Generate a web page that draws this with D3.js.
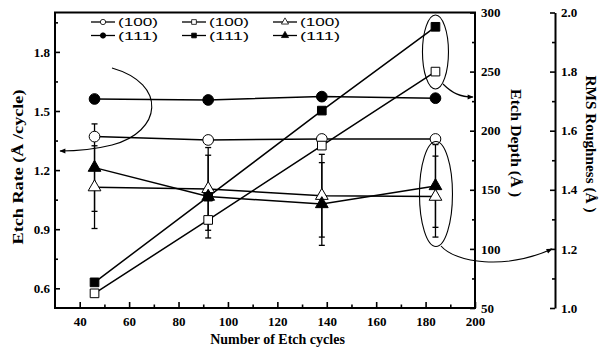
<!DOCTYPE html>
<html><head><meta charset="utf-8">
<script src="https://cdn.jsdelivr.net/npm/d3@7"></script>
<style>body{margin:0;background:#fff}svg{display:block}</style>
</head><body><svg id="c" width="609" height="347"></svg>
<script>
// ---- data ----
const cycles = [46, 92, 138, 184];
const rate100 = [1.370, 1.353, 1.358, 1.358];
const rate111 = [1.561, 1.556, 1.573, 1.565];
const depth100 = [62.4, 124.5, 187.4, 250.0];
const depth111 = [71.7, 144.2, 217.0, 287.9];
const rms100 = [1.409, 1.403, 1.380, 1.377];
const rms111 = [1.475, 1.377, 1.352, 1.413];
const rms100Err = [0.140, 0.140, 0.140, 0.137];
const rms111Err = [0.148, 0.140, 0.140, 0.140];
const xTicks = [40, 60, 80, 100, 120, 140, 160, 180, 200];
const xMinor = [50, 70, 90, 110, 130, 150, 170, 190];
const rateTicks = [0.6, 0.9, 1.2, 1.5, 1.8];
const rateMinor = [0.75, 1.05, 1.35, 1.65, 1.95];
const depthTicks = [50, 100, 150, 200, 250, 300];
const depthMinor = [75, 125, 175, 225, 275];
const rmsTicks = [1.0, 1.2, 1.4, 1.6, 1.8, 2.0];
const rmsMinor = [1.1, 1.3, 1.5, 1.7, 1.9];
const legendLabels = ["(100)", "(100)", "(100)", "(111)", "(111)", "(111)"];

// ---- layout ----
const L = 55, R = 475, T = 12.5, B = 308;
const svg = d3.select("#c");
const x = d3.scaleLinear([30, 200], [L, R]);
const yL = d3.scaleLinear([0.5, 2.0], [B, T]);
const yD = d3.scaleLinear([50, 300], [B, T]);
const yR = d3.scaleLinear([1.0, 2.0], [B, T]);
const serif = "'Liberation Serif','Times New Roman',serif";

svg.append("defs").append("marker").attr("id", "arr")
  .attr("viewBox", "0 0 10 10").attr("refX", 9).attr("refY", 5)
  .attr("markerWidth", 7).attr("markerHeight", 6).attr("orient", "auto")
  .attr("markerUnits", "userSpaceOnUse")
  .append("path").attr("d", "M0,1 L10,5 L0,9 Z").attr("fill", "#000");

function styleAxis(g, fs) {
  g.selectAll("text").attr("font-family", serif).attr("font-weight", "bold")
    .attr("font-size", fs).attr("fill", "#000");
  g.selectAll("line").attr("stroke", "#000").attr("stroke-width", 1.6);
}

// x axis
const gx = svg.append("g").attr("transform", `translate(0,${B})`)
  .call(d3.axisBottom(x).tickValues(xTicks).tickSize(-6).tickPadding(9).tickFormat(d3.format("d")));
gx.select(".domain").remove(); styleAxis(gx, 13);
const gxm = svg.append("g").attr("transform", `translate(0,${B})`)
  .call(d3.axisBottom(x).tickValues(xMinor).tickSize(-3.5).tickFormat(""));
gxm.select(".domain").remove(); styleAxis(gxm, 13);

// left axis
const gl = svg.append("g").attr("transform", `translate(${L},0)`)
  .call(d3.axisLeft(yL).tickValues(rateTicks).tickSize(-5).tickPadding(5).tickFormat(d3.format(".1f")));
gl.select(".domain").remove(); styleAxis(gl, 13);
const glm = svg.append("g").attr("transform", `translate(${L},0)`)
  .call(d3.axisLeft(yL).tickValues(rateMinor).tickSize(-3).tickFormat(""));
glm.select(".domain").remove(); styleAxis(glm, 13);

// depth axis (right of frame)
const gd = svg.append("g").attr("transform", `translate(${R},0)`)
  .call(d3.axisRight(yD).tickValues(depthTicks).tickSize(-5).tickPadding(6).tickFormat(d3.format("d")));
gd.select(".domain").remove(); styleAxis(gd, 13);
const gdm = svg.append("g").attr("transform", `translate(${R},0)`)
  .call(d3.axisRight(yD).tickValues(depthMinor).tickSize(-3).tickFormat(""));
gdm.select(".domain").remove(); styleAxis(gdm, 13);

// RMS axis
const gr = svg.append("g").attr("transform", "translate(555,0)")
  .call(d3.axisRight(yR).tickValues(rmsTicks).tickSize(-5).tickSizeOuter(0).tickPadding(6).tickFormat(d3.format(".1f")));
gr.select(".domain").attr("stroke", "#000").attr("stroke-width", 2);
styleAxis(gr, 13);
const grm = svg.append("g").attr("transform", "translate(555,0)")
  .call(d3.axisRight(yR).tickValues(rmsMinor).tickSize(-3).tickFormat(""));
grm.select(".domain").remove(); styleAxis(grm, 13);

// frame
svg.append("rect").attr("x", L).attr("y", T).attr("width", R - L).attr("height", B - T)
  .attr("fill", "none").attr("stroke", "#000").attr("stroke-width", 2);

// axis titles
function title(txt, tx, ty, rot, fs, len) {
  const t = svg.append("text").attr("transform", `translate(${tx},${ty}) rotate(${rot})`)
    .attr("text-anchor", "middle").attr("font-family", serif).attr("font-weight", "bold")
    .attr("font-size", fs).attr("fill", "#000").text(txt);
  if (len) t.attr("textLength", len).attr("lengthAdjust", "spacingAndGlyphs");
}
title("Number of Etch cycles", 277.5, 344, 0, 14);
title("Etch Rate (Å /cycle)", 23, 167, -90, 15.5, 155);
title("Etch Depth (Å )", 511, 143, 90, 15.5, 108);
title("RMS Roughness (Å )", 586, 144, 90, 15.5, 137);

// ---- series ----
const series = [
  {vals: rate100, y: yL, sym: d3.symbolCircle, fill: "#fff", size: 90},
  {vals: rate111, y: yL, sym: d3.symbolCircle, fill: "#000", size: 90},
  {vals: depth100, y: yD, sym: d3.symbolSquare, fill: "#fff", size: 75},
  {vals: depth111, y: yD, sym: d3.symbolSquare, fill: "#000", size: 75},
  {vals: rms100, y: yR, sym: d3.symbolTriangle, fill: "#fff", size: 70, err: rms100Err},
  {vals: rms111, y: yR, sym: d3.symbolTriangle, fill: "#000", size: 70, err: rms111Err}
];
const line = d3.line();
series.forEach(s => {
  const pts = cycles.map((c, i) => [x(c), s.y(s.vals[i])]);
  svg.append("path").attr("d", line(pts)).attr("fill", "none").attr("stroke", "#000").attr("stroke-width", 1.5);
});
series.filter(s => s.err).forEach(s => {
  cycles.forEach((c, i) => {
    const cx = x(c), y1 = s.y(s.vals[i] + s.err[i]), y2 = s.y(s.vals[i] - s.err[i]);
    const g = svg.append("g").attr("stroke", "#000").attr("stroke-width", 1.3);
    g.append("line").attr("x1", cx).attr("x2", cx).attr("y1", y1).attr("y2", y2);
    [y1, y2].forEach(yy => g.append("line").attr("x1", cx - 3).attr("x2", cx + 3).attr("y1", yy).attr("y2", yy));
  });
});
series.forEach(s => {
  cycles.forEach((c, i) => {
    svg.append("path").attr("d", d3.symbol(s.sym, s.size)())
      .attr("transform", `translate(${x(c)},${s.y(s.vals[i])})`)
      .attr("fill", s.fill).attr("stroke", "#000").attr("stroke-width", 1);
  });
});

// ---- legend ----
const legendOrder = [series[0], series[2], series[4], series[1], series[3], series[5]];
const colX = [91, 182, 273], rowY = [22, 35.5];
legendOrder.forEach((s, i) => {
  const lx = colX[i % 3], ly = rowY[Math.floor(i / 3)];
  svg.append("line").attr("x1", lx).attr("x2", lx + 24).attr("y1", ly).attr("y2", ly)
    .attr("stroke", "#000").attr("stroke-width", 1.3);
  svg.append("path").attr("d", d3.symbol(s.sym, 22)())
    .attr("transform", `translate(${lx + 12},${ly})`)
    .attr("fill", s.fill).attr("stroke", "#000").attr("stroke-width", 0.8);
  svg.append("text").attr("x", lx + 27).attr("y", ly + 4).attr("font-family", "'Liberation Sans',Arial,sans-serif")
    .attr("font-size", 11).attr("textLength", 40).attr("lengthAdjust", "spacingAndGlyphs")
    .attr("fill", "#000").text(legendLabels[i]);
});

// ---- annotations ----
const ann = svg.append("g").attr("fill", "none").attr("stroke", "#000").attr("stroke-width", 1.1);
ann.append("path").attr("d", "M112,68 C168,84 162,132 112,145 C92,150 78,151 60,151").attr("marker-end", "url(#arr)");
ann.append("ellipse").attr("cx", x(184)).attr("cy", 52).attr("rx", 13).attr("ry", 37);
ann.append("path").attr("d", "M443,84 C452,93 460,97 473,97").attr("marker-end", "url(#arr)");
ann.append("ellipse").attr("cx", x(184) + 0.5).attr("cy", 194).attr("rx", 16.5).attr("ry", 52.5);
ann.append("path").attr("d", "M441,246 C456,263 505,270 552,249").attr("marker-end", "url(#arr)");
</script></body></html>
